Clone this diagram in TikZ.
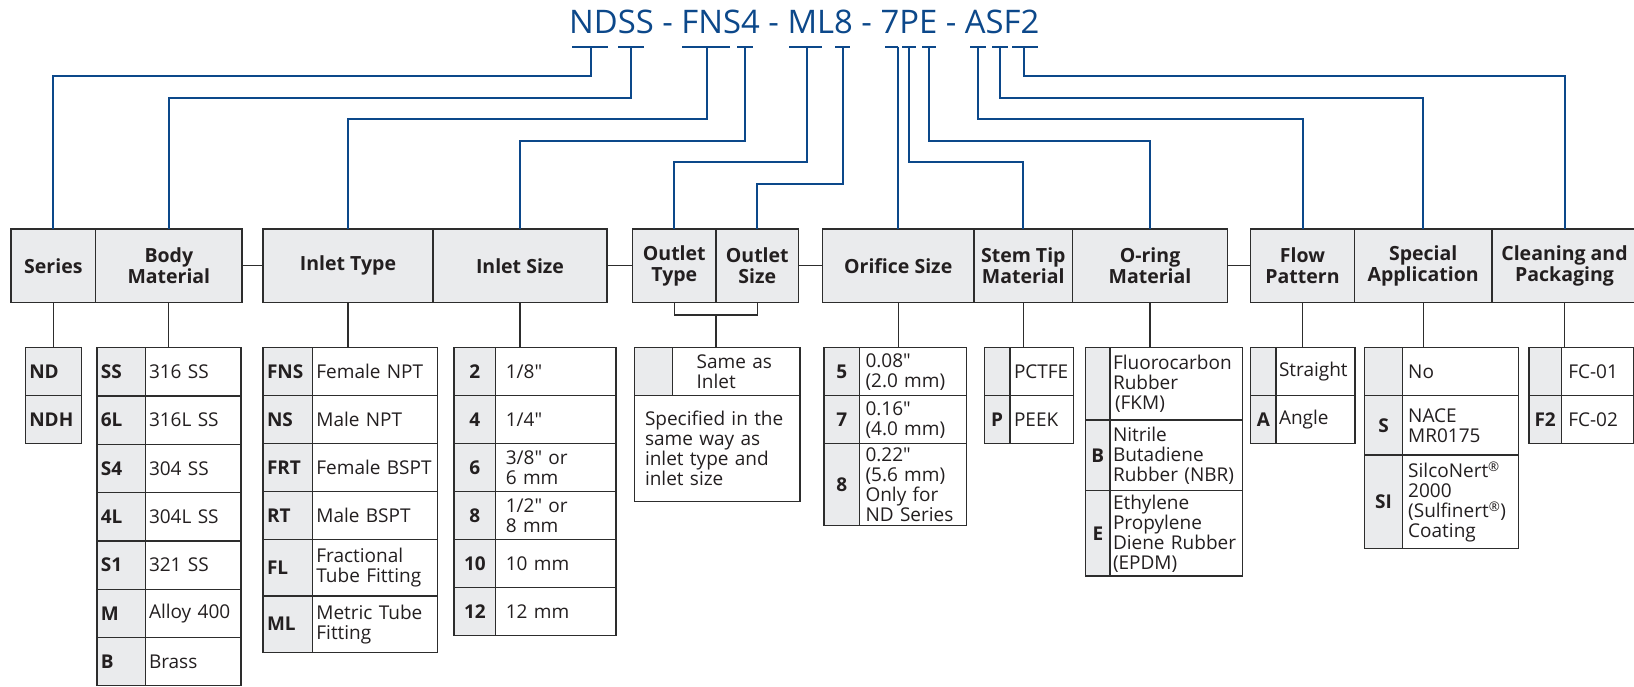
\documentclass[tikz,border=0pt]{standalone}
\usepackage{fontspec}
\setmainfont{Open Sans}[Ligatures=TeXOff]
\usepackage{graphicx}
\usepackage{tikz}
\usetikzlibrary{positioning,calc}
\definecolor{swblue}{RGB}{12,72,138}
\definecolor{hdrgray}{RGB}{234,235,237}
\definecolor{rulegray}{RGB}{45,45,45}
\definecolor{inkgray}{RGB}{35,31,32}
% one option row: [desc pad]{name}{top left}{code width}{row width}{height}{code}{text}
\newcommand{\optrow}[7][4]{%
  \pgfmathsetmacro{\codetw}{#4-8}%
  \pgfmathsetmacro{\desctw}{#5-#4-2*#1}%
  \node[codecell, text width=\codetw pt, minimum height=#6pt, anchor=north west] (#2c) at (#3) {#7};
  \node[desccell, inner xsep=#1pt, text width=\desctw pt, minimum height=#6pt, anchor=north west] (#2d) at (#2c.north east) {\optdesc};
}
\newcommand{\optitem}[8][4]{\def\optdesc{#8}\optrow[#1]{#2}{#3}{#4}{#5}{#6}{#7}}

\begin{document}
\begin{tikzpicture}[x=1pt, y=-1pt,
    hdr/.style={draw=rulegray, fill=hdrgray, line width=1.2pt, inner sep=0pt, outer sep=0pt, minimum height=73.7pt, anchor=north west, align=center, text=inkgray, font=\bfseries\fontsize{19.5}{21.5}\selectfont},
    codecell/.style={draw=rulegray, fill=hdrgray, line width=1.2pt, inner xsep=4pt, inner ysep=0pt, outer sep=0pt, align=center, text=inkgray, font=\bfseries\fontsize{19}{20}\selectfont},
    desccell/.style={draw=rulegray, fill=white, line width=1.2pt, inner ysep=0pt, outer sep=0pt, align=left, text=inkgray, font=\fontsize{19}{20}\selectfont},
    codeline/.style={draw=swblue, line width=2pt},
    stem/.style={draw=rulegray, line width=1.2pt}
]
    \useasboundingbox (0,0) rectangle (1634,686);
    \fill[white] (0,0) rectangle (1634,686);

    % part number and the marks under its groups
    \node[anchor=base west, inner sep=0pt, text=swblue] (partno) at (569,33.3) {\resizebox{470pt}{23.5pt}{NDSS - FNS4 - ML8 - 7PE - ASF2}};
    \foreach \nm/\xa/\xb/\xv in {nd/572/608/591, ss/618/644/631, fns/682/730/707, four/737/753/745,
        ml/789/822/807, eight/835/850/843, seven/885/898/898, p/902/916/909, e/922/936/929,
        a/970/986/978, s/992/1008/1000, f2/1012/1038/1024}{
      \draw[codeline] (\xa,46.7) -- (\xb,46.7);
      \coordinate (\nm) at (\xv,46.7);
    }

    % header cells
    \node[hdr, minimum width=84.7pt]  (series)     at (11,229)     {Series};
    \node[hdr, minimum width=146.3pt] (body)       at (95.7,229)   {Body\\Material};
    \node[hdr, minimum width=170pt]   (inlettype)  at (263,229)    {Inlet Type};
    \node[hdr, minimum width=174pt]   (inletsize)  at (433,229)    {Inlet Size};
    \node[hdr, minimum width=83.2pt]  (outlettype) at (632.7,229)  {Outlet\\Type};
    \node[hdr, minimum width=82.8pt]  (outletsize) at (715.9,229)  {Outlet\\Size};
    \node[hdr, minimum width=151.6pt] (orifice)    at (822.4,229)  {Orifice Size};
    \node[hdr, minimum width=98.6pt]  (stemtip)    at (974,229)    {Stem Tip\\Material};
    \node[hdr, minimum width=154.9pt] (oring)      at (1072.6,229) {O-ring\\Material};
    \node[hdr, minimum width=103.6pt] (flow)       at (1250.7,229) {Flow\\Pattern};
    \node[hdr, minimum width=137.7pt] (special)    at (1354.3,229) {Special\\Application};
    \node[hdr, minimum width=145pt]   (cleaning)   at (1492,229)   {Cleaning and\\Packaging};

    \draw[stem] (body.east) -- (inlettype.west);
    \draw[stem] (inletsize.east) -- (outlettype.west);
    \draw[stem] (outletsize.east) -- (orifice.west);
    \draw[stem] (oring.east) -- (flow.west);

    % part number to header
    \foreach \mk/\cell/\drop in {nd/series/29.3, ss/body/50.8, fns/inlettype/72.3, four/inletsize/93.8,
        ml/outlettype/115.3, eight/outletsize/136.8, p/stemtip/115.3, e/oring/93.8,
        a/flow/72.3, s/special/50.8, f2/cleaning/29.3}
      \draw[codeline] (\mk) -- ++(0,\drop) -| (\cell.north);
    \draw[codeline] (seven) -- (seven |- orifice.north);

    % series
    \node[codecell, align=left, text width=48.2pt, minimum height=48pt, anchor=north west] (sernd) at (25.3,347.7) {ND};
    \node[codecell, align=left, text width=48.2pt, minimum height=48pt, anchor=north west] (serndh) at (sernd.south west) {NDH};

    % body material
    \begin{scope}[codecell/.append style={align=left}]
    \optitem[3.5]{bss}{96.9,347.7}{48.6}{144.1}{48.3}{SS}{316 SS}
    \optitem[3.5]{bsixl}{bssc.south west}{48.6}{144.1}{48.3}{6L}{316L SS}
    \optitem[3.5]{bsfour}{bsixlc.south west}{48.6}{144.1}{48.3}{S4}{304 SS}
    \optitem[3.5]{bfourl}{bsfourc.south west}{48.6}{144.1}{48.3}{4L}{304L SS}
    \optitem[3.5]{bsone}{bfourlc.south west}{48.6}{144.1}{48.3}{S1}{321 SS}
    \optitem[3.5]{bm}{bsonec.south west}{48.6}{144.1}{48.3}{M}{Alloy 400}
    \optitem[3.5]{bb}{bmc.south west}{48.6}{144.1}{48.3}{B}{Brass}

    % inlet type
    \optitem{ifns}{263,347.7}{49.4}{174.7}{48}{FNS}{Female NPT}
    \optitem{ins}{ifnsc.south west}{49.4}{174.7}{48}{NS}{Male NPT}
    \optitem{ifrt}{insc.south west}{49.4}{174.7}{48}{FRT}{Female BSPT}
    \optitem{irt}{ifrtc.south west}{49.4}{174.7}{48}{RT}{Male BSPT}
    \optitem{ifl}{irtc.south west}{49.4}{174.7}{56.3}{FL}{Fractional\\Tube Fitting}
    \optitem{iml}{iflc.south west}{49.4}{174.7}{56.3}{ML}{Metric Tube\\Fitting}
    \end{scope}

    % inlet size
    \optitem[10]{itwo}{454,347.7}{41.8}{162}{48}{2}{1/8"}
    \optitem[10]{ifour}{itwoc.south west}{41.8}{162}{48}{4}{1/4"}
    \optitem[10]{isix}{ifourc.south west}{41.8}{162}{48}{6}{3/8" or\\6 mm}
    \optitem[10]{ieight}{isixc.south west}{41.8}{162}{48}{8}{1/2" or\\8 mm}
    \optitem[10]{iten}{ieightc.south west}{41.8}{162}{48}{10}{10 mm}
    \optitem[10]{itwelve}{itenc.south west}{41.8}{162}{48}{12}{12 mm}

    % outlet
    \optitem[24]{same}{634.3,347.7}{38.3}{165.7}{48}{}{Same as\\Inlet}
    \node[desccell, inner xsep=10.7pt, text width=144.3pt, minimum height=106pt, anchor=north west] (samenote) at (samec.south west) {Specified in the\\same way as\\inlet type and\\inlet size};
    \draw[stem] (outlettype.south) -- ++(0,12.3) -| (outletsize.south);
    \coordinate (outjoin) at ($(outlettype.south east)+(0,12.3)$);
    \draw[stem] (outjoin) -- (outjoin |- samed.north);

    % orifice size
    \optitem[6]{ofive}{824,347.7}{35.5}{142.8}{48}{5}{0.08"\\(2.0 mm)}
    \optitem[6]{oseven}{ofivec.south west}{35.5}{142.8}{48}{7}{0.16"\\(4.0 mm)}
    \optitem[6]{oeight}{osevenc.south west}{35.5}{142.8}{82}{8}{0.22"\\(5.6 mm)\\Only for\\ND Series}

    % stem tip
    \optitem{tpctfe}{984.4,347.7}{25.6}{88.9}{48}{}{PCTFE}
    \optitem{tpeek}{tpctfec.south west}{25.6}{88.9}{47.6}{P}{PEEK}

    % o-ring
    \optitem[3]{rfkm}{1085.7,347.7}{24.3}{157}{72.3}{}{Fluorocarbon\\Rubber\\\hspace*{2pt}(FKM)}
    \optitem[3]{rnbr}{rfkmc.south west}{24.3}{157}{70.7}{B}{Nitrile\\Butadiene\\Rubber (NBR)}
    \optitem[3]{repdm}{rnbrc.south west}{24.3}{157}{85.3}{E}{Ethylene\\Propylene\\Diene Rubber\\(EPDM)}

    % flow pattern
    \optitem[3]{fstr}{1250.7,347.7}{25.3}{104.3}{48}{}{Straight}
    \optitem[3]{fang}{fstrc.south west}{25.3}{104.3}{47.6}{A}{Angle}

    % special application
    \optitem[5.5]{sno}{1364.3,347.7}{38.4}{154.4}{48}{}{No}
    \optitem[5.5]{snace}{snoc.south west}{38.4}{154.4}{59.3}{S}{NACE\\MR0175}
    \optitem[5.5]{ssil}{snacec.south west}{38.4}{154.4}{93.3}{SI}{SilcoNert\textsuperscript{\textregistered}\\2000\\(Sulfinert\textsuperscript{\textregistered})\\Coating}

    % cleaning and packaging
    \optitem[7]{cone}{1529,347.7}{32.3}{104.3}{48}{}{FC-01}
    \optitem[7]{ctwo}{conec.south west}{32.3}{104.3}{48}{F2}{FC-02}

    % header to option tables
    \draw[stem] (series.south) -- (series.south |- sernd.north);
    \draw[stem] (body.south) -- (body.south |- bssc.north);
    \draw[stem] (inlettype.south) -- (inlettype.south |- ifnsc.north);
    \draw[stem] (inletsize.south) -- (inletsize.south |- itwoc.north);
    \draw[stem] (orifice.south) -- (orifice.south |- ofivec.north);
    \draw[stem] (stemtip.south) -- (stemtip.south |- tpctfec.north);
    \draw[stem] (oring.south) -- (oring.south |- rfkmc.north);
    \draw[stem] (flow.south) -- (flow.south |- fstrc.north);
    \draw[stem] (special.south) -- (special.south |- snoc.north);
    \draw[stem] (cleaning.south) -- (cleaning.south |- conec.north);
\end{tikzpicture}
\end{document}
